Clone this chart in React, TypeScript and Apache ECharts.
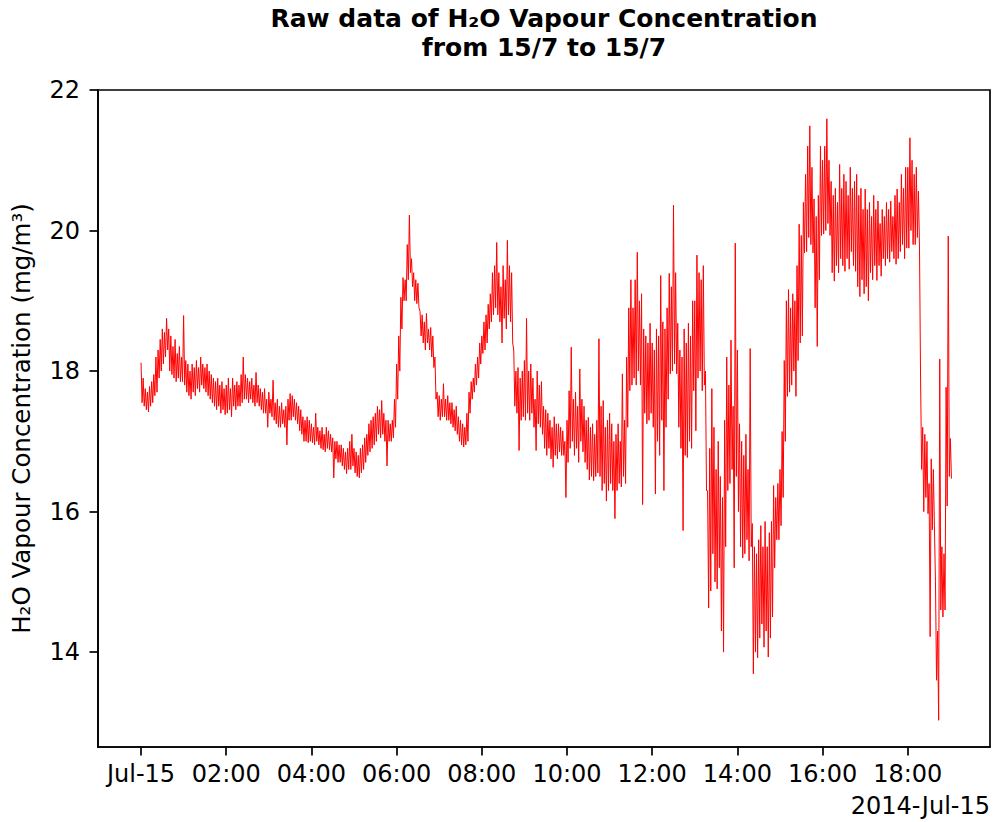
import { useEffect, useRef } from "react";
import * as echarts from "echarts";

// Sensor readings for 2014-07-15 (mg/m³). Each hour holds twenty 3-minute
// slots; every slot lists the highest and the lowest reading seen in it.
const hour00 = [[18.12, 17.55], [17.9, 17.5], [17.75, 17.45], [17.7, 17.42], [17.78, 17.5], [17.85, 17.55], [17.95, 17.65], [18.2, 17.7], [18.3, 17.9], [18.45, 18.0], [18.6, 18.1], [18.55, 18.2], [18.75, 18.3], [18.6, 18.0], [18.5, 17.95], [18.35, 17.9], [18.45, 17.85], [18.25, 17.9], [18.35, 17.85], [18.2, 17.85]];
const hour01 = [[18.79, 17.8], [18.15, 17.7], [18.1, 17.65], [18.0, 17.6], [18.1, 17.7], [18.05, 17.65], [18.15, 17.75], [18.05, 17.7], [18.2, 17.8], [18.1, 17.75], [18.05, 17.7], [18.1, 17.65], [18.0, 17.6], [17.95, 17.55], [17.9, 17.5], [17.85, 17.45], [17.9, 17.5], [17.8, 17.4], [17.85, 17.45], [17.75, 17.38]];
const hour02 = [[17.8, 17.4], [17.9, 17.45], [17.75, 17.35], [17.9, 17.5], [17.8, 17.45], [17.85, 17.5], [17.8, 17.5], [17.95, 17.55], [18.2, 17.6], [17.95, 17.6], [17.9, 17.55], [17.85, 17.6], [17.9, 17.55], [17.8, 17.5], [17.98, 17.55], [17.8, 17.5], [17.75, 17.45], [17.7, 17.4], [17.75, 17.4], [17.6, 17.2]];
const hour03 = [[17.7, 17.4], [17.6, 17.35], [17.87, 17.3], [17.55, 17.25], [17.6, 17.2], [17.5, 17.2], [17.55, 17.25], [17.45, 17.2], [17.5, 16.95], [17.6, 17.3], [17.68, 17.3], [17.65, 17.35], [17.6, 17.3], [17.55, 17.25], [17.5, 17.15], [17.45, 17.1], [17.35, 17.0], [17.3, 17.0], [17.35, 16.98], [17.3, 17.0]];
const hour04 = [[17.25, 16.98], [17.2, 16.95], [17.4, 17.0], [17.2, 16.95], [17.15, 16.9], [17.2, 16.88], [17.1, 16.85], [17.2, 16.9], [17.15, 16.88], [17.1, 16.85], [17.05, 16.48], [17.0, 16.75], [17.0, 16.7], [16.95, 16.7], [16.95, 16.65], [16.9, 16.6], [16.85, 16.54], [16.9, 16.6], [17.0, 16.6], [17.1, 16.65]];
const hour05 = [[16.9, 16.55], [16.85, 16.5], [16.8, 16.48], [16.9, 16.55], [16.95, 16.6], [17.05, 16.7], [17.1, 16.8], [17.25, 16.85], [17.3, 16.9], [17.35, 16.95], [17.4, 17.0], [17.5, 17.1], [17.45, 17.05], [17.58, 17.1], [17.4, 17.0], [17.3, 16.65], [17.3, 17.0], [17.25, 17.0], [17.3, 17.05], [17.6, 17.2]];
const hour06 = [[18.1, 17.6], [18.5, 18.0], [19.05, 18.6], [19.33, 19.0], [19.3, 19.0], [19.8, 19.3], [20.22, 19.4], [19.6, 19.2], [19.4, 19.0], [19.3, 18.96], [19.25, 18.9], [18.85, 18.5], [18.8, 18.4], [18.7, 18.3], [18.82, 18.4], [18.6, 18.3], [18.62, 18.2], [18.5, 18.05], [18.2, 17.6], [17.7, 17.35]];
const hour07 = [[17.65, 17.3], [17.6, 17.35], [17.82, 17.35], [17.6, 17.3], [17.65, 17.3], [17.55, 17.25], [17.55, 17.2], [17.45, 17.15], [17.5, 17.1], [17.35, 17.0], [17.3, 16.95], [17.25, 16.92], [17.2, 16.95], [17.4, 17.0], [17.7, 17.4], [17.85, 17.6], [17.9, 17.7], [18.1, 17.8], [18.2, 17.9], [18.4, 18.1]];
const hour08 = [[18.5, 18.25], [18.7, 18.3], [18.8, 18.4], [18.95, 18.6], [19.1, 18.7], [19.4, 18.8], [19.5, 18.9], [19.83, 18.8], [19.4, 18.7], [19.2, 18.4], [19.5, 18.75], [19.3, 18.6], [19.86, 18.8], [19.5, 18.7], [19.4, 18.4], [18.3, 17.5], [18.0, 17.4], [18.05, 16.87], [17.9, 17.3], [18.0, 17.35]];
const hour09 = [[18.15, 17.3], [18.75, 17.4], [18.0, 17.3], [18.1, 17.4], [17.9, 17.2], [17.6, 16.87], [18.0, 17.25], [17.8, 17.2], [17.85, 17.1], [17.5, 16.9], [17.45, 16.8], [17.4, 16.9], [17.3, 16.75], [17.2, 16.63], [17.35, 16.8], [17.25, 16.75], [17.25, 16.85], [17.2, 16.8], [17.15, 16.8], [17.0, 16.2]];
const hour10 = [[17.3, 16.7], [17.72, 16.9], [18.34, 17.0], [17.6, 16.8], [17.7, 16.9], [17.5, 16.7], [18.03, 17.0], [17.6, 16.85], [17.5, 16.7], [17.3, 16.6], [17.34, 16.45], [17.2, 16.5], [17.25, 16.44], [17.1, 16.5], [17.3, 16.55], [18.46, 16.5], [17.5, 16.3], [17.58, 16.4], [17.2, 16.15], [17.3, 16.3]];
const hour11 = [[17.4, 16.4], [17.25, 16.3], [17.0, 15.9], [17.1, 16.3], [17.25, 16.4], [17.0, 16.35], [17.96, 16.5], [17.3, 16.4], [18.2, 17.2], [18.9, 17.72], [19.3, 17.8], [18.9, 17.9], [19.3, 17.8], [19.69, 18.0], [19.0, 17.8], [19.1, 16.1], [18.6, 17.4], [18.5, 17.25], [18.4, 17.3], [18.68, 17.4]];
const hour12 = [[18.4, 17.2], [18.3, 16.25], [18.6, 17.0], [18.5, 16.8], [19.36, 17.3], [18.7, 16.3], [18.6, 17.2], [18.9, 17.6], [19.39, 17.96], [19.2, 18.0], [20.36, 18.1], [19.4, 17.96], [18.68, 17.2], [18.3, 16.9], [18.2, 15.73], [18.6, 16.8], [18.4, 16.77], [18.68, 17.0], [18.5, 16.9], [19.0, 17.72]];
const hour13 = [[19.0, 17.15], [19.65, 17.9], [19.4, 18.0], [19.3, 17.72], [19.5, 17.8], [18.0, 16.3], [16.3, 14.63], [16.9, 14.87], [17.75, 15.4], [17.2, 15.0], [16.6, 14.9], [17.0, 15.2], [16.5, 14.3], [16.2, 14.0], [17.3, 15.5], [18.2, 16.3], [17.8, 16.4], [18.44, 16.6], [17.5, 15.2], [19.82, 16.5]];
const hour14 = [[18.3, 16.0], [17.25, 15.5], [17.0, 15.34], [16.8, 15.4], [17.1, 15.6], [16.6, 15.3], [18.32, 15.5], [15.83, 13.69], [15.5, 14.0], [15.4, 13.92], [15.6, 14.2], [15.8, 14.4], [15.5, 14.07], [15.86, 14.3], [15.5, 13.93], [15.7, 14.2], [15.86, 14.5], [16.37, 15.2], [16.2, 15.6], [16.4, 15.6]];
const hour15 = [[16.6, 15.8], [17.14, 16.2], [18.15, 17.0], [19.0, 17.64], [19.16, 17.7], [18.9, 17.8], [19.1, 18.0], [19.0, 17.64], [19.5, 18.15], [20.09, 18.4], [19.93, 18.5], [20.4, 19.68], [20.8, 19.7], [21.2, 19.9], [21.49, 19.8], [20.9, 19.68], [20.45, 18.9], [20.2, 18.35], [20.5, 19.3], [21.2, 19.93]];
const hour16 = [[21.0, 19.95], [21.2, 20.0], [21.59, 20.1], [21.0, 19.93], [20.7, 19.4], [20.5, 19.28], [20.6, 19.5], [20.4, 19.4], [20.94, 19.6], [20.6, 19.5], [20.8, 19.42], [20.7, 19.6], [20.5, 19.45], [20.9, 19.7], [20.6, 19.5], [20.7, 19.42], [20.8, 19.2], [20.5, 19.06], [20.6, 19.3], [20.3, 19.1]];
const hour17 = [[20.59, 19.2], [20.3, 19.0], [20.4, 19.4], [20.2, 19.3], [20.5, 19.5], [20.3, 19.29], [20.42, 19.5], [20.1, 19.35], [20.3, 19.6], [20.2, 19.5], [20.4, 19.6], [20.3, 19.55], [20.42, 19.7], [20.2, 19.6], [20.5, 19.52], [20.59, 19.6], [20.4, 19.7], [20.8, 19.8], [20.6, 19.6], [20.9, 19.75]];
const hour18 = [[20.9, 19.75], [21.32, 20.0], [21.0, 19.8], [20.8, 19.8], [20.9, 19.9], [20.56, 19.75], [17.9, 16.6], [17.2, 16.0], [17.1, 16.2], [17.0, 15.97], [16.4, 14.22], [16.75, 15.74], [16.6, 15.8], [15.0, 13.6], [14.3, 13.03], [18.17, 14.6], [15.5, 14.5], [15.4, 14.6], [17.77, 16.08], [19.92, 16.5]];
const hour19 = [[17.04, 16.47]];

const hourlyBlocks = [
  hour00, hour01, hour02, hour03, hour04, hour05, hour06, hour07, hour08, hour09,
  hour10, hour11, hour12, hour13, hour14, hour15, hour16, hour17, hour18, hour19,
];

// Axis ticks
const xTickHours = [0, 2, 4, 6, 8, 10, 12, 14, 16, 18];
const yTickValues = [14, 16, 18, 20, 22];

const DAY_START = Date.UTC(2014, 6, 15);
const HOUR_MS = 3600 * 1000;
const SLOT_MS = 3 * 60 * 1000;

const FONT = "DejaVu Sans";
const TICK_FONT = 24;

function buildPoints(): [number, number][] {
  const pts: [number, number][] = [];
  hourlyBlocks.forEach((block, h) => {
    block.forEach(([hi, lo], i) => {
      const t = DAY_START + h * HOUR_MS + i * SLOT_MS;
      pts.push([t, hi]);
      pts.push([t + SLOT_MS / 2, lo]);
    });
  });
  return pts;
}

function formatTick(v: number): string {
  const h = new Date(v).getUTCHours();
  if (h === 0) return "Jul-15";
  return (h < 10 ? "0" + h : "" + h) + ":00";
}

export default function App() {
  const ref = useRef<HTMLDivElement>(null);

  useEffect(() => {
    if (!ref.current) return;
    const chart = echarts.init(ref.current, null, { renderer: "svg" });
    const xTicks = xTickHours.map((h) => DAY_START + h * HOUR_MS);

    chart.setOption({
      animation: false,
      backgroundColor: "#ffffff",
      textStyle: { fontFamily: FONT },
      grid: {
        left: 98,
        right: 10,
        top: 90,
        bottom: 75,
        show: true,
        borderColor: "#000000",
        borderWidth: 1.7,
        backgroundColor: "transparent",
      },
      graphic: [
        {
          type: "text",
          x: 544,
          y: 4,
          style: {
            text: "Raw data of H₂O Vapour Concentration\nfrom 15/7 to 15/7",
            align: "center",
            verticalAlign: "top",
            fontFamily: FONT,
            fontWeight: "bold",
            fontSize: 25,
            lineHeight: 29,
            fill: "#000000",
          },
        },
        {
          type: "text",
          x: 990,
          y: 806,
          style: {
            text: "2014-Jul-15",
            align: "right",
            verticalAlign: "middle",
            fontFamily: FONT,
            fontSize: TICK_FONT,
            fill: "#000000",
          },
        },
      ],
      xAxis: {
        type: "value",
        min: DAY_START - 1.01 * HOUR_MS,
        max: DAY_START + 19.93 * HOUR_MS,
        splitLine: { show: false },
        axisLine: { show: true, onZero: false, lineStyle: { color: "#000000", width: 1.7 } },
        axisTick: {
          show: true,
          inside: false,
          length: 8.5,
          customValues: xTicks,
          lineStyle: { color: "#000000", width: 1.7 },
        },
        axisLabel: {
          customValues: xTicks,
          formatter: formatTick,
          margin: 15,
          fontFamily: FONT,
          fontSize: TICK_FONT,
          color: "#000000",
        },
      },
      yAxis: {
        type: "value",
        min: 12.65,
        max: 22,
        name: "H₂O Vapour Concentration (mg/m³)",
        nameLocation: "middle",
        nameGap: 64,
        nameTextStyle: { fontFamily: FONT, fontSize: 24.5, color: "#000000" },
        splitLine: { show: false },
        axisLine: { show: true, onZero: false, lineStyle: { color: "#000000", width: 1.7 } },
        axisTick: {
          show: true,
          inside: false,
          length: 8.5,
          customValues: yTickValues,
          lineStyle: { color: "#000000", width: 1.7 },
        },
        axisLabel: {
          customValues: yTickValues,
          margin: 18,
          fontFamily: FONT,
          fontSize: TICK_FONT,
          color: "#000000",
        },
      },
      series: [
        {
          type: "line",
          data: buildPoints(),
          showSymbol: false,
          symbol: "none",
          lineStyle: { color: "#ff0000", width: 1 },
          itemStyle: { color: "#ff0000" },
          z: 3,
        },
      ],
    });

    return () => {
      chart.dispose();
    };
  }, []);

  return (
    <div
      ref={ref}
      style={{ position: "fixed", left: 0, top: 0, width: 1000, height: 822, background: "#fff" }}
    />
  );
}
